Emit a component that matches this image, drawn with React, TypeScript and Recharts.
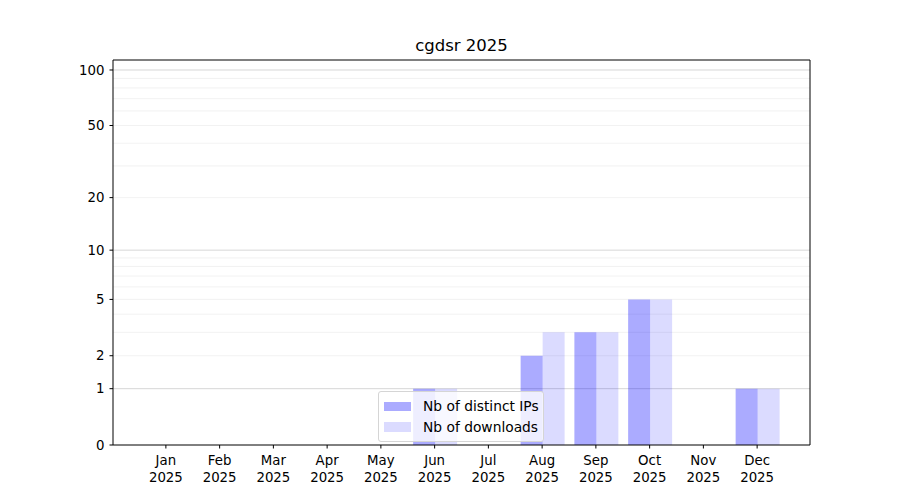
import { BarChart, Bar, XAxis, YAxis, CartesianGrid, Legend } from 'recharts'

const months = ['Jan', 'Feb', 'Mar', 'Apr', 'May', 'Jun', 'Jul', 'Aug', 'Sep', 'Oct', 'Nov', 'Dec']
const year = '2025'
const distinctIps = [0, 0, 0, 0, 0, 1, 0, 2, 3, 5, 0, 1]
const downloads = [0, 0, 0, 0, 0, 1, 0, 3, 3, 5, 0, 1]
const yTickValues = [0, 1, 2, 5, 10, 20, 50, 100]
const majorGrid = [1, 10, 100]
const minorGrid = [2, 3, 4, 5, 6, 7, 8, 9, 20, 30, 40, 50, 60, 70, 80, 90]

// log10(1 + v) keeps zero on the axis
const toAxis = (v: number) => Math.log10(1 + v)
const fromAxis = (t: number) => Math.round(Math.pow(10, t) - 1)
const Y_MAX = 2.0577

const FONT = '"DejaVu Sans", sans-serif'
const FONT_SIZE = 13.33

const data = months.map((m, i) => ({
  month: m,
  ips: toAxis(distinctIps[i]),
  downloads: toAxis(downloads[i]),
}))

const legendItems = [
  { label: 'Nb of distinct IPs', opacity: 0.33 },
  { label: 'Nb of downloads', opacity: 0.14 },
]

function MonthTick({ x, y, payload }: any) {
  return (
    <text x={x} y={y} textAnchor="middle" fill="#000" fontSize={FONT_SIZE} fontFamily={FONT}>
      <tspan x={x} dy={14.5}>{payload.value}</tspan>
      <tspan x={x} dy={16.5}>{year}</tspan>
    </text>
  )
}

function LegendBox() {
  return (
    <div
      style={{
        border: '1px solid #d5d5d5',
        borderRadius: 3,
        background: 'rgba(255,255,255,0.8)',
        padding: '4px 6px 4px 5px',
        fontFamily: FONT,
        fontSize: 13.8,
        color: '#000',
        width: 166,
        boxSizing: 'border-box',
      }}
    >
      {legendItems.map((item) => (
        <div key={item.label} style={{ display: 'flex', alignItems: 'center', height: 20.5 }}>
          <div
            style={{
              width: 27,
              height: 9.5,
              background: `rgba(0,0,255,${item.opacity})`,
              marginRight: 12,
              flexShrink: 0,
            }}
          />
          <span style={{ whiteSpace: 'nowrap' }}>{item.label}</span>
        </div>
      ))}
    </div>
  )
}

export default function App() {
  return (
    <div style={{ position: 'absolute', left: 0, top: 0, width: 900, height: 500, background: '#fff' }}>
      <div
        style={{
          position: 'absolute',
          left: 113,
          width: 697,
          top: 36,
          textAlign: 'center',
          fontFamily: FONT,
          fontSize: 16.5,
          lineHeight: '20px',
          color: '#000',
        }}
      >
        cgdsr 2025
      </div>
      <BarChart
        width={900}
        height={500}
        data={data}
        margin={{ top: 59, right: 89, bottom: 15, left: 63 }}
        barGap={0}
        barCategoryGap="10%"
      >
        <CartesianGrid
          vertical={false}
          horizontalValues={minorGrid.map(toAxis)}
          stroke="#efefef"
          strokeWidth={0.8}
        />
        <CartesianGrid
          vertical={false}
          horizontalValues={majorGrid.map(toAxis)}
          stroke="#cccccc"
          strokeWidth={0.8}
        />
        <XAxis
          dataKey="month"
          interval={0}
          padding={{ left: 26, right: 26 }}
          height={40}
          tickSize={3.5}
          tickMargin={2}
          tickLine={{ stroke: '#000' }}
          axisLine={{ stroke: '#000' }}
          tick={<MonthTick />}
        />
        <XAxis
          xAxisId="top"
          dataKey="month"
          orientation="top"
          height={1}
          tick={false}
          tickLine={false}
          axisLine={{ stroke: '#000' }}
        />
        <YAxis
          type="number"
          domain={[0, Y_MAX]}
          ticks={yTickValues.map(toAxis)}
          interval={0}
          allowDataOverflow
          width={50}
          tickSize={3.5}
          tickMargin={5}
          tickFormatter={(v: number) => String(fromAxis(v))}
          tickLine={{ stroke: '#000' }}
          axisLine={{ stroke: '#000' }}
          tick={{ fill: '#000', fontSize: FONT_SIZE, fontFamily: FONT }}
        />
        <YAxis
          yAxisId="right"
          orientation="right"
          type="number"
          domain={[0, Y_MAX]}
          width={1}
          tick={false}
          tickLine={false}
          axisLine={{ stroke: '#000' }}
        />
        <Bar dataKey="ips" name="Nb of distinct IPs" fill="#0000ff" fillOpacity={0.33} isAnimationActive={false} />
        <Bar dataKey="downloads" name="Nb of downloads" fill="#0000ff" fillOpacity={0.14} isAnimationActive={false} />
        <Legend
          layout="vertical"
          align="center"
          verticalAlign="middle"
          content={<LegendBox />}
          wrapperStyle={{ position: 'absolute', left: 378, top: 391, width: 'auto', height: 'auto' }}
        />
      </BarChart>
    </div>
  )
}
